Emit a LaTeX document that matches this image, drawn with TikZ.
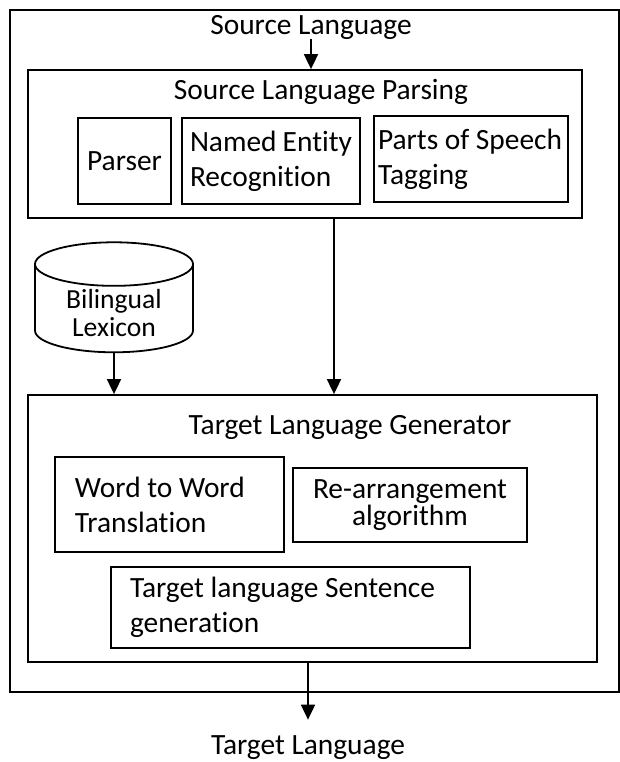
\documentclass[tikz,border=0pt]{standalone}
\usepackage{fontspec}
\setmainfont{Carlito}[Ligatures = NoCommon]
\usetikzlibrary{positioning,shapes.geometric,arrows.meta}
\tikzstyle{pixelGrid} = [x = 0.5pt, y = -0.5pt]
\tikzstyle{boxStyle} = [draw, line width = 0.9pt, inner ysep = 0pt]
\tikzstyle{boxText} = [font = \fontsize{14.7}{17.5}\selectfont]
\tikzstyle{plainText} = [font = \fontsize{14.7}{17.5}\selectfont, inner sep = 0pt]
\tikzstyle{arrowStyle} = [-{Triangle[length = 7.5pt, width = 7pt]}, line width = 0.9pt]
\tikzstyle{storeStyle} = [draw, line width = 0.9pt, cylinder, shape border rotate = 90, aspect = 0.4, inner ysep = 0pt, font = \fontsize{13.8}{13.8}\selectfont]

\begin{document}
\begin{tikzpicture}[pixelGrid]
  \useasboundingbox (0,0) rectangle (620,762);
  % outer frame
  \draw [line width = 0.9pt] (10,10) rectangle (619,692);

  \node [plainText] (src) at (311,27) {Source Language};
  \node [plainText] (tgt) at (308,748) {Target Language};

  % parsing stage
  \node [boxStyle, minimum width = 277pt, minimum height = 74pt] (parse) at (305,144) {};
  \node [plainText] (parseTitle) at (321,92) {Source Language Parsing};
  \node [boxStyle, boxText, minimum width = 46.5pt, minimum height = 43pt, inner xsep = 0pt] (parser) at (124.5,161) {Parser};
  \node [boxStyle, boxText, text width = 81pt, inner xsep = 4pt, minimum height = 43pt, align = flush left] (ner) at (271,161) {Named Entity\\Recognition};
  \node [boxStyle, boxText, text width = 93pt, inner xsep = 2pt, minimum height = 43pt, align = flush left] (pos) at (471,159) {Parts of Speech\\Tagging};

  % lexicon
  \node [storeStyle, minimum width = 79pt, minimum height = 55pt, align = center] (lex) at (114,313) {Bilingual\\Lexicon};

  % generation stage
  \node [boxStyle, minimum width = 284.5pt, minimum height = 133.5pt] (gen) at (312.5,528.5) {};
  \node [plainText] (genTitle) at (350,427) {Target Language Generator};
  \node [boxStyle, boxText, text width = 94.5pt, inner xsep = 10pt, minimum height = 47.5pt, align = flush left] (wordMap) at (169.5,504.5) {Word to Word\\Translation};
  \node [boxStyle, font = \fontsize{14.7}{12.5}\selectfont, text width = 113pt, inner xsep = 2pt, minimum height = 37pt, align = center] (rearr) at (410,505) {Re-arrangement\\algorithm};
  \node [boxStyle, boxText, text width = 160.5pt, inner xsep = 9.5pt, minimum height = 40.5pt, align = flush left] (sent) at (290.5,607.5) {Target language Sentence\\generation};

  % connectors
  \draw [arrowStyle] (src) -- (src |- parse.north);
  \draw [arrowStyle] ([xshift = 14.5pt]parse.south) -- ([xshift = 14.5pt]parse.south |- gen.north);
  \draw [arrowStyle] (lex.south) -- (lex.south |- gen.north);
  \draw [arrowStyle, shorten > = 8pt] (gen.south -| tgt) -- (tgt.north);
\end{tikzpicture}
\end{document}
